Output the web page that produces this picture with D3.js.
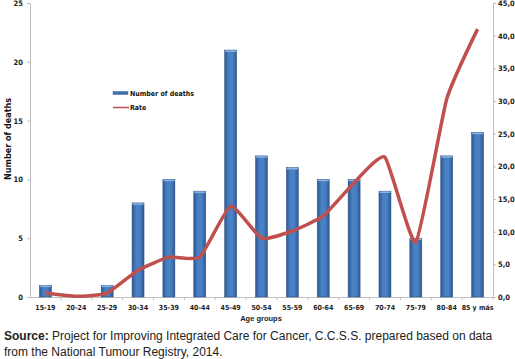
<!DOCTYPE html>
<html>
<head>
<meta charset="utf-8">
<script src="https://cdn.jsdelivr.net/npm/d3@7"></script>
<style>
  body { margin: 0; background: #fff; }
  svg { display: block; }
  .tick text { fill: #222; }
</style>
</head>
<body>
<script>
var width = 515,
    height = 359;

// data
var ageGroups = ["15-19", "20-24", "25-29", "30-34", "35-39", "40-44", "45-49", "50-54",
                 "55-59", "60-64", "65-69", "70-74", "75-79", "80-84", "85 y más"];
var deaths = [1, 0, 1, 8, 10, 9, 21, 12, 11, 10, 10, 9, 5, 12, 14];
var rate = [0.6, 0.1, 0.6, 4.1, 6.1, 6.1, 13.9, 9.0, 10.1, 12.4, 17.5, 21.4, 8.4, 30.3, 41.0];
var leftTicks = [0, 5, 10, 15, 20, 25];
var rightTicks = [0, 5, 10, 15, 20, 25, 30, 35, 40, 45];

var narrow = "'Liberation Sans Narrow', 'DejaVu Sans Condensed', 'Liberation Sans', sans-serif";

var svg = d3.select("body")
    .append("svg")
    .attr("width", width)
    .attr("height", height);

var defs = svg.append("defs");
var grad = defs.append("linearGradient")
    .attr("id", "barGrad")
    .attr("x1", "0%").attr("x2", "100%").attr("y1", "0%").attr("y2", "0%");
grad.append("stop").attr("offset", "0%").attr("stop-color", "#2c5a93");
grad.append("stop").attr("offset", "35%").attr("stop-color", "#4a80c4");
grad.append("stop").attr("offset", "65%").attr("stop-color", "#4a80c4");
grad.append("stop").attr("offset", "100%").attr("stop-color", "#2c5a93");

var x = d3.scaleBand()
    .domain(ageGroups)
    .range([30, 493]);

var yL = d3.scaleLinear()
    .domain([0, 25])
    .range([297, 3]);

var yR = d3.scaleLinear()
    .domain([0, 45])
    .range([297, 3]);

// left axis
var gL = svg.append("g")
    .attr("transform", "translate(30,0)")
    .call(d3.axisLeft(yL).tickValues(leftTicks).tickSize(3).tickPadding(4));
gL.select(".domain").attr("stroke", "#bfbfbf");
gL.selectAll(".tick line").attr("stroke", "#bfbfbf");
gL.selectAll(".tick text")
    .attr("font-family", narrow)
    .attr("font-size", 7.5)
    .attr("font-weight", "bold");

// right axis
var fmt = function(d) { return d3.format(".1f")(d).replace(".", ","); };
var gR = svg.append("g")
    .attr("transform", "translate(493,0)")
    .call(d3.axisRight(yR).tickValues(rightTicks).tickSize(3).tickPadding(2).tickFormat(fmt));
gR.select(".domain").attr("stroke", "#bfbfbf");
gR.selectAll(".tick line").attr("stroke", "#bfbfbf");
gR.selectAll(".tick text")
    .attr("font-family", narrow)
    .attr("font-size", 7.5)
    .attr("font-weight", "bold");

// bottom axis
var gB = svg.append("g")
    .attr("transform", "translate(0,297)")
    .call(d3.axisBottom(x).tickSize(0).tickPadding(8));
gB.select(".domain").attr("stroke", "#bfbfbf");
gB.selectAll(".tick text")
    .attr("font-family", narrow)
    .attr("font-size", 7)
    .attr("font-weight", "bold");
gB.selectAll(".sep")
    .data(ageGroups)
  .enter().append("line")
    .attr("class", "sep")
    .attr("x1", function(d) { return x(d) + x.bandwidth(); })
    .attr("x2", function(d) { return x(d) + x.bandwidth(); })
    .attr("y1", 0)
    .attr("y2", 3)
    .attr("stroke", "#bfbfbf");

// bars
var barW = 12;
var bars = svg.append("g").attr("class", "bars");
bars.selectAll("rect.bar")
    .data(deaths)
  .enter().append("rect")
    .attr("class", "bar")
    .attr("x", function(d, i) { return x(ageGroups[i]) + x.bandwidth() / 2 - barW / 2; })
    .attr("y", function(d) { return yL(d); })
    .attr("width", barW)
    .attr("height", function(d) { return yL(0) - yL(d); })
    .attr("fill", "url(#barGrad)")
    .attr("stroke", "#2a4f80")
    .attr("stroke-width", 0.5);
bars.selectAll("rect.cap")
    .data(deaths)
  .enter().append("rect")
    .attr("class", "cap")
    .attr("x", function(d, i) { return x(ageGroups[i]) + x.bandwidth() / 2 - barW / 2 + 0.5; })
    .attr("y", function(d) { return yL(d) + 0.3; })
    .attr("width", barW - 1)
    .attr("height", function(d) { return d > 0 ? 1.5 : 0; })
    .attr("fill", "#8db4e2");

// rate line
var line = d3.line()
    .x(function(d, i) { return x(ageGroups[i]) + x.bandwidth() / 2; })
    .y(function(d) { return yR(d); })
    .curve(d3.curveCardinal.tension(0.55));

svg.append("path")
    .datum(rate)
    .attr("d", line)
    .attr("fill", "none")
    .attr("stroke", "#c0504d")
    .attr("stroke-width", 3.5)
    .attr("stroke-linejoin", "round");

// legend
var legend = svg.append("g").attr("font-family", narrow).attr("font-size", 7).attr("font-weight", "bold");
legend.append("rect")
    .attr("x", 113).attr("y", 91.5).attr("width", 15).attr("height", 3)
    .attr("fill", "#3f72b3").attr("stroke", "#2a4f80").attr("stroke-width", 0.4);
legend.append("text").attr("x", 130).attr("y", 96).attr("fill", "#111").text("Number of deaths");
legend.append("line")
    .attr("x1", 113).attr("x2", 129).attr("y1", 107.5).attr("y2", 107.5)
    .attr("stroke", "#c0504d").attr("stroke-width", 1.5);
legend.append("text").attr("x", 130).attr("y", 110).attr("fill", "#111").text("Rate");

// axis titles
svg.append("text")
    .attr("transform", "translate(11,139) rotate(-90)")
    .attr("text-anchor", "middle")
    .attr("font-family", narrow)
    .attr("font-size", 9)
    .attr("font-weight", "bold")
    .attr("fill", "#111")
    .text("Number of deaths");

svg.append("text")
    .attr("x", 261)
    .attr("y", 321)
    .attr("text-anchor", "middle")
    .attr("font-family", "'Liberation Sans', Arial, sans-serif")
    .attr("font-size", 7.5)
    .attr("font-weight", "bold")
    .attr("fill", "#222")
    .text("Age groups");

// source note
var src = svg.append("text")
    .attr("font-family", "'Liberation Sans', Arial, sans-serif")
    .attr("font-size", 12)
    .attr("fill", "#222");
var l1 = src.append("tspan").attr("x", 4).attr("y", 340);
l1.append("tspan").attr("font-weight", "bold").text("Source:");
l1.append("tspan").text(" Project for Improving Integrated Care for Cancer, C.C.S.S. prepared based on data");
src.append("tspan").attr("x", 4).attr("y", 356).text("from the National Tumour Registry, 2014.");
</script>
</body>
</html>
